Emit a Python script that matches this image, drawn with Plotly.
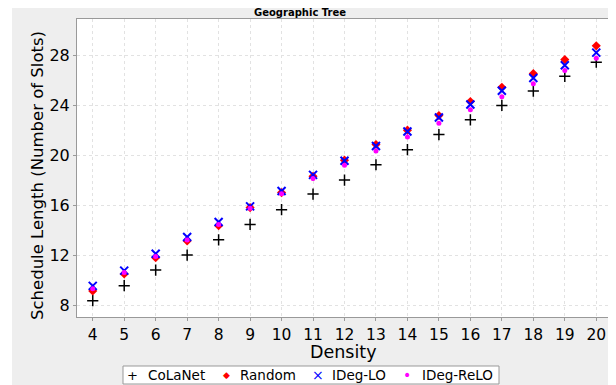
import plotly.graph_objects as go

density = [4, 5, 6, 7, 8, 9, 10, 11, 12, 13, 14, 15, 16, 17, 18, 19, 20]
colanet = [8.35, 9.55, 10.8, 12.0, 13.22, 14.45, 15.63, 16.88, 18.0, 19.23, 20.44, 21.65, 22.83, 23.98, 25.13, 26.31, 27.44]
random_ = [9.12, 10.49, 11.78, 13.12, 14.35, 15.8, 17.0, 18.3, 19.6, 20.85, 22.0, 23.17, 24.3, 25.43, 26.53, 27.65, 28.75]
ideg_lo = [9.53, 10.75, 12.1, 13.44, 14.64, 15.9, 17.13, 18.42, 19.55, 20.73, 21.89, 23.01, 24.06, 25.16, 26.18, 27.2, 28.21]
ideg_relo = [9.3, 10.6, 11.88, 13.2, 14.45, 15.74, 16.9, 18.12, 19.2, 20.33, 21.46, 22.56, 23.63, 24.68, 25.72, 26.77, 27.76]
y_ticks = [8, 12, 16, 20, 24, 28]
series_names = ["CoLaNet", "Random", "IDeg-LO", "IDeg-ReLO"]
legend_symbols = ["+", "◆", "×", "•"]
series_colors = ["black", "red", "blue", "magenta"]

FONT = "DejaVu Sans"
OFF = 8  # page body margin
W, H = 616 - OFF, 385 - OFF
L, R, T, B = 77 - OFF, 4, 19 - OFF, 68
pw, ph = W - L - R, H - T - B

fig = go.Figure()
fig.add_trace(go.Scatter(x=density, y=colanet, mode="markers", name=series_names[0],
                         marker=dict(symbol="cross-thin", size=8, color="black",
                                     line=dict(width=1.5, color="black"))))
fig.add_trace(go.Scatter(x=density, y=random_, mode="markers", name=series_names[1],
                         marker=dict(symbol="diamond", size=7, color="red")))
fig.add_trace(go.Scatter(x=density, y=ideg_lo, mode="markers", name=series_names[2],
                         marker=dict(symbol="x-thin", size=8, color="blue",
                                     line=dict(width=2, color="blue"))))
fig.add_trace(go.Scatter(x=density, y=ideg_relo, mode="markers", name=series_names[3],
                         marker=dict(symbol="circle", size=5, color="magenta")))

# helpers converting screenshot pixels to paper coordinates
px_x = lambda p: (p - OFF - L) / pw
px_y = lambda p: (H - B - (p - OFF)) / ph

# legend box drawn as shape + text annotations
shapes = [
    dict(type="rect", xref="paper", yref="paper", layer="below",
         x0=px_x(OFF), x1=px_x(12), y0=px_y(385), y1=px_y(OFF),
         fillcolor="white", line=dict(width=0)),
    dict(type="rect", xref="paper", yref="paper", layer="above",
         x0=px_x(123), x1=px_x(499), y0=px_y(384), y1=px_y(366),
         fillcolor="white", line=dict(width=1, color="#999999")),
]
sym_x = [132, 226, 318, 407]
lab_x = [146, 238, 330, 420]
sym_size = [13, 9, 14, 14]
annotations = [
    dict(text="<b>Geographic Tree</b>", xref="paper", yref="paper",
         x=px_x(300), y=px_y(12.5), xanchor="center", yanchor="middle",
         showarrow=False, font=dict(size=10, family=FONT)),
    dict(text="Density", xref="paper", yref="paper",
         x=px_x(343), y=px_y(351.5), xanchor="center", yanchor="middle",
         showarrow=False, font=dict(size=17.5, family=FONT)),
    dict(text="Schedule Length (Number of Slots)", xref="paper", yref="paper",
         x=px_x(37), y=px_y(176), xanchor="center", yanchor="middle",
         textangle=-90, showarrow=False, font=dict(size=16.5, family=FONT)),
]
for name, sym, col, sx, lx, ss in zip(series_names, legend_symbols, series_colors,
                                      sym_x, lab_x, sym_size):
    annotations.append(dict(text=sym, xref="paper", yref="paper",
                            x=px_x(sx), y=px_y(375), xanchor="center", yanchor="middle",
                            showarrow=False, font=dict(size=ss, family=FONT, color=col)))
    annotations.append(dict(text=name, xref="paper", yref="paper",
                            x=px_x(lx), y=px_y(375), xanchor="left", yanchor="middle",
                            showarrow=False, font=dict(size=13.5, family=FONT, color="black")))

fig.update_layout(
    width=W, height=H,
    margin=dict(l=L, r=R, t=T, b=B),
    paper_bgcolor="#EEEEEE",
    plot_bgcolor="white",
    font=dict(family=FONT, color="black"),
    showlegend=False,
    xaxis=dict(range=[3.5, 20.5], tickmode="array", tickvals=density,
               ticktext=[str(d) for d in density],
               showgrid=True, gridcolor="#E2E2E2", griddash="dot",
               showline=True, linecolor="#999999", mirror=True, zeroline=False,
               ticks="outside", ticklen=3, tickcolor="#999999",
               tickfont=dict(size=15.5, family=FONT)),
    yaxis=dict(range=[7.04, 30.9], tickmode="array", tickvals=y_ticks,
               ticktext=[str(v) for v in y_ticks],
               showgrid=True, gridcolor="#E2E2E2", griddash="dot",
               showline=True, linecolor="#999999", mirror=True, zeroline=False,
               ticks="outside", ticklen=3, tickcolor="#999999",
               tickfont=dict(size=16, family=FONT)),
    shapes=shapes,
    annotations=annotations,
)

fig.write_html("out.html")
